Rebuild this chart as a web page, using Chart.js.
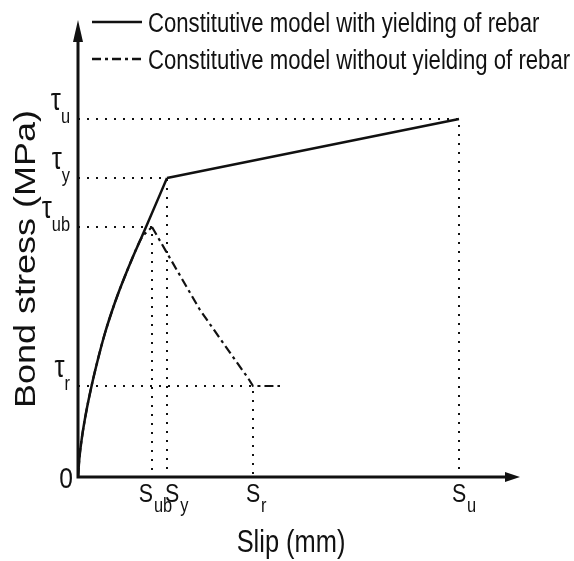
<!DOCTYPE html>
<html>
<head>
<meta charset="utf-8">
<script src="https://cdn.jsdelivr.net/npm/chart.js@4/dist/chart.umd.min.js"></script>
<style>
  html, body { margin: 0; padding: 0; background: #fff; }
  canvas { display: block; }
</style>
</head>
<body>
<canvas id="bondChart" width="574" height="561"></canvas>
<script>
// Characteristic points (ub, y, r, u) - arbitrary units
const pointKeys = ['ub', 'y', 'r', 'u'];
const slipTicks = [7.4, 8.9, 17.5, 38.1];
const stressTicks = [25.0, 29.9, 9.1, 35.8];

// Curve with yielding of rebar (curved rise up to S_y, then straight to S_u)
const withYieldSlip = [0, 0.15, 0.4, 0.8, 1.4, 2.0, 2.7, 3.4, 4.0, 4.7, 5.4, 6.1, 6.8, 8.9, 38.1];
const withYieldStress = [0, 2.0, 4.0, 6.4, 9.3, 11.8, 14.4, 16.6, 18.3, 20.1, 21.8, 23.4, 25.0, 29.9, 35.8];

// Curve without yielding of rebar (rise to S_ub, softening to S_r, residual)
const noYieldSlip = [0, 0.15, 0.4, 0.8, 1.4, 2.0, 2.7, 3.4, 4.0, 4.7, 5.4, 6.3, 7.4, 8.9, 12.2, 15.5, 17.0, 17.5, 20.2];
const noYieldStress = [0, 2.0, 4.0, 6.4, 9.3, 11.8, 14.4, 16.6, 18.3, 20.1, 21.8, 23.8, 25.0, 22.4, 16.7, 12.0, 9.9, 9.1, 9.1];

const legendLabels = [
    'Constitutive model with yielding of rebar',
    'Constitutive model without yielding of rebar'
];
const xTitle = 'Slip (mm)';
const yTitle = 'Bond stress (MPa)';

const INK = '#111';
const SQ = 0.82; // the figure's text is squeezed horizontally
const FONT = 'Arial, "Liberation Sans", sans-serif';
const DASHDOT = [9, 4, 3, 4];

function toPoints(xs, ys) {
    return xs.map((x, i) => ({ x: x, y: ys[i] }));
}

function lineSet(points, width, dash, smooth) {
    return {
        data: points,
        borderColor: INK,
        borderWidth: width,
        borderDash: dash,
        showLine: true,
        pointRadius: 0,
        fill: false,
        cubicInterpolationMode: smooth ? 'monotone' : 'default',
        tension: 0
    };
}

// Dotted guide lines: from the stress axis across to the point, then down to the slip axis
const guideSets = pointKeys.map((k, i) => lineSet([
    { x: 0, y: stressTicks[i] },
    { x: slipTicks[i], y: stressTicks[i] },
    { x: slipTicks[i], y: 0 }
], 2, [2, 7], false));

// split each curve at its peak so the rising branch can be smoothed
const yieldIdx = withYieldSlip.indexOf(slipTicks[1]);
const peakIdx = noYieldSlip.indexOf(slipTicks[0]);
const withYieldPts = toPoints(withYieldSlip, withYieldStress);
const noYieldPts = toPoints(noYieldSlip, noYieldStress);

function squeezedText(ctx, str, x, y, size, align) {
    ctx.save();
    ctx.font = size + 'px ' + FONT;
    ctx.translate(x, y);
    ctx.scale(SQ, 1);
    ctx.textAlign = align || 'left';
    ctx.textBaseline = 'alphabetic';
    ctx.fillText(str, 0, 0);
    ctx.restore();
}

function textWidth(ctx, str, size) {
    ctx.save();
    ctx.font = size + 'px ' + FONT;
    const w = ctx.measureText(str).width * SQ;
    ctx.restore();
    return w;
}

const sketchPlugin = {
    id: 'sketch',
    beforeDraw(chart) {
        const ctx = chart.ctx;
        ctx.save();
        ctx.fillStyle = '#fff';
        ctx.fillRect(0, 0, chart.width, chart.height);
        ctx.restore();
    },
    afterDatasetsDraw(chart) {
        const ctx = chart.ctx;
        const xs = chart.scales.x;
        const ys = chart.scales.y;
        const x0 = xs.getPixelForValue(0);
        const y0 = ys.getPixelForValue(0);
        const xEnd = xs.getPixelForValue(xs.max);
        const yEnd = ys.getPixelForValue(ys.max);

        ctx.save();
        ctx.strokeStyle = INK;
        ctx.fillStyle = INK;
        ctx.lineWidth = 3;
        ctx.lineCap = 'butt';

        // axes with arrow heads
        ctx.beginPath();
        ctx.moveTo(x0, y0 + 1.5);
        ctx.lineTo(x0, yEnd + 15);
        ctx.moveTo(x0 - 1.5, y0);
        ctx.lineTo(xEnd - 10, y0);
        ctx.stroke();

        ctx.beginPath();
        ctx.moveTo(x0, yEnd);
        ctx.lineTo(x0 - 5, yEnd + 22);
        ctx.lineTo(x0 + 5, yEnd + 22);
        ctx.closePath();
        ctx.fill();

        ctx.beginPath();
        ctx.moveTo(xEnd, y0);
        ctx.lineTo(xEnd - 15, y0 - 5);
        ctx.lineTo(xEnd - 15, y0 + 5);
        ctx.closePath();
        ctx.fill();

        // origin label
        squeezedText(ctx, '0', x0 - 5, y0 + 11, 30, 'right');

        // stress tick labels (tau with subscripts)
        pointKeys.forEach((k, i) => {
            const py = ys.getPixelForValue(stressTicks[i]);
            const wSub = textWidth(ctx, k, 20);
            const wTau = textWidth(ctx, 'τ', 31);
            const right = x0 - 8;
            squeezedText(ctx, k, right - wSub, py + 4, 20, 'left');
            squeezedText(ctx, 'τ', right - wSub - wTau, py - 9, 31, 'left');
        });

        // slip tick labels (S with subscripts)
        const sAlign = { ub: 'right', y: 'left', r: 'center', u: 'center' };
        pointKeys.forEach((k, i) => {
            const px = xs.getPixelForValue(slipTicks[i]);
            const wS = textWidth(ctx, 'S', 26);
            let left = px - wS / 2;
            if (sAlign[k] === 'right') left = px - wS + 1;
            if (sAlign[k] === 'left') left = px - 2;
            squeezedText(ctx, 'S', left, y0 + 25, 26, 'left');
            squeezedText(ctx, k, left + wS + 1, y0 + 35, 20, 'left');
        });

        // axis titles
        squeezedText(ctx, xTitle, 291, 552, 31, 'center');
        ctx.save();
        ctx.font = '36px ' + FONT;
        ctx.translate(35, 259);
        ctx.scale(0.84, 1);
        ctx.rotate(-Math.PI / 2);
        ctx.textAlign = 'center';
        ctx.fillText(yTitle, 0, 0);
        ctx.restore();

        // legend
        const legendY = [22, 59];
        const legendDash = [[], DASHDOT];
        legendLabels.forEach((lbl, i) => {
            ctx.save();
            ctx.lineWidth = 2.5;
            ctx.setLineDash(legendDash[i]);
            ctx.beginPath();
            ctx.moveTo(92, legendY[i]);
            ctx.lineTo(142, legendY[i]);
            ctx.stroke();
            ctx.restore();
            squeezedText(ctx, lbl, 148, legendY[i] + 10, 27, 'left');
        });

        ctx.restore();
    }
};

const ctx = document.getElementById('bondChart').getContext('2d');
const chart = new Chart(ctx, {
    type: 'scatter',
    data: {
        datasets: [
            ...guideSets,
            lineSet(noYieldPts.slice(0, peakIdx + 1), 2.2, DASHDOT, true),
            lineSet(noYieldPts.slice(peakIdx), 2.2, DASHDOT, false),
            lineSet(withYieldPts.slice(0, yieldIdx + 1), 2.5, [], true),
            lineSet(withYieldPts.slice(yieldIdx), 2.5, [], false)
        ]
    },
    options: {
        responsive: false,
        animation: false,
        layout: { padding: { left: 78, right: 54, top: 20, bottom: 84 } },
        scales: {
            x: { type: 'linear', min: 0, max: 44.2, display: false },
            y: { type: 'linear', min: 0, max: 45.7, display: false }
        },
        plugins: {
            legend: { display: false },
            tooltip: { enabled: false }
        }
    },
    plugins: [sketchPlugin]
});
</script>
</body>
</html>
